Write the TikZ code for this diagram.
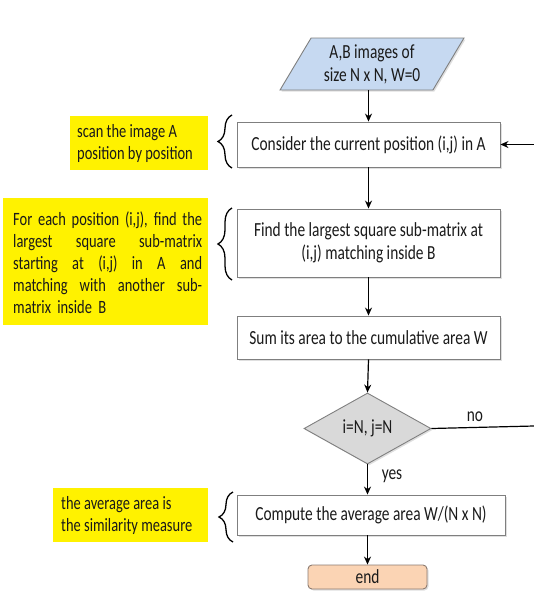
\documentclass[tikz,border=0pt]{standalone}
\usepackage{fontspec}
\setmainfont{Carlito}[FakeStretch=0.77]
\usetikzlibrary{arrows.meta,shapes.geometric,decorations.pathreplacing,shadows}
\definecolor{boxline}{HTML}{7F7F7F}
\definecolor{parfill}{HTML}{C6D9F1}
\definecolor{decfill}{HTML}{D9D9D9}
\definecolor{endfill}{HTML}{FBD4B4}
\definecolor{endline}{HTML}{8C7B70}
\definecolor{txt}{HTML}{1A1A1A}
\newcommand\jline[1]{\makebox[189pt][s]{\spaceskip=0.25em plus 1fil\relax #1}\\}
\begin{document}
\begin{tikzpicture}[x=1pt,y=-1pt,
  every node/.style={font=\fontsize{20}{23}\selectfont, text=txt},
  shd/.style={drop shadow={opacity=0.25, shadow xshift=1.5pt, shadow yshift=-1.5pt}},
  proc/.style={draw=boxline, line width=0.9pt, fill=white, shd, minimum width=263pt, minimum height=45pt, inner sep=0pt, align=center},
  note/.style={fill=yellow, inner sep=0pt, align=left, font=\fontsize{18.8}{22}\selectfont},
  arr/.style={-{Stealth[length=8pt,width=7pt]}, line width=1.2pt},
  brc/.style={decorate, decoration={brace, amplitude=14pt}, line width=1.3pt},
  lbl/.style={inner sep=0pt},
]
\useasboundingbox (0,0) rectangle (534,592);

% main flow
\node[draw=boxline, line width=0.9pt, fill=parfill, shd, shape=trapezium,
      trapezium left angle=58, trapezium right angle=122, trapezium stretches=true,
      minimum width=184pt, minimum height=52pt, inner sep=0pt, align=center]
      (par) at (372,64) {A,B images of\\size N x N, W=0};
\node[proc] (b1) at (368.5,144.5) {Consider the current position (i,j) in A};
\node[proc, minimum height=68pt] (b2) at (368.5,243) {Find the largest square sub-matrix at\\(i,j) matching inside B};
\node[proc, minimum height=43pt] (b3) at (368.5,337.5) {Sum its area to the cumulative area W};
\node[draw=boxline, line width=0.9pt, fill=decfill, shd, shape=diamond, aspect=1.79,
      minimum width=127pt, minimum height=71pt, inner sep=0pt] (d) at (367.5,428.5) {i=N, j=N};
\node[proc, minimum width=268pt, minimum height=40pt] (b4) at (371,515) {Compute the average area W/(N x N)};
\node[draw=endline, line width=0.9pt, fill=endfill, shd, rounded corners=4pt,
      minimum width=119pt, minimum height=24pt, inner sep=0pt] (e) at (367.5,577) {end};

% notes (yellow backgrounds and their texts)
\node[note, minimum width=138pt, minimum height=54pt] (n1) at (139,143) {};
\node[note, fill=none, anchor=west] (n1t) at (77,143) {scan the image A\\position by position};
\node[note, minimum width=205pt, minimum height=127pt] (n2) at (105.5,261.5) {};
\node[note, fill=none, text width=189pt, font=\fontsize{18.8}{21.9}\selectfont, anchor=west] (n2t) at (13,262.5)
  {\jline{For each position (i,j), find the}\jline{largest square sub-matrix}\jline{starting at (i,j) in A and}\jline{matching with another sub-}matrix inside B};
\node[note, minimum width=155pt, minimum height=54pt] (n4) at (130.5,515) {};
\node[note, fill=none, anchor=west] (n4t) at (61,515) {the average area is\\the similarity measure};

% braces
\draw[brc] (232,168) -- (232,115);
\draw[brc] (232,280) -- (232,208);
\draw[brc] (233,542) -- (233,492);

% loop ends
\coordinate (l1) at (534,426);
\coordinate (l2) at (534,144.5);

% connectors
\draw[arr] (b1.north |- par.south) -- (b1.north);
\draw[arr] (b1.south) -- (b2.north);
\draw[arr] (b2.south) -- (b3.north);
\draw[arr] (b3.south) -- (d.north);
\draw[arr] (d.south) -- (d.south |- b4.north);
\draw[arr] (b4.south -| e.north) -- (e.north);
\draw[line width=1.2pt] (d.east) -- (l1);
\draw[arr] (l2) -- (b1.east);

% labels
\node[lbl] (no) at (475,417) {no};
\node[lbl] (yes) at (392,476) {yes};
\end{tikzpicture}
\end{document}
